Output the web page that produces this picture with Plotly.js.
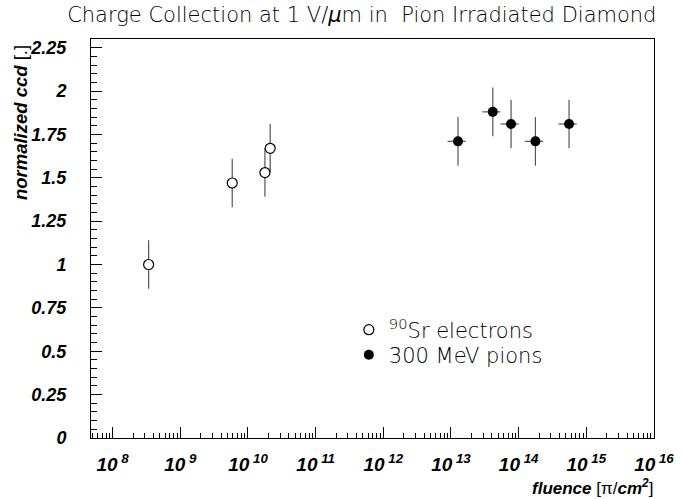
<!DOCTYPE html>
<html>
<head>
<meta charset="utf-8">
<script src="https://cdn.plot.ly/plotly-3.0.1.min.js"></script>
<style>html,body{margin:0;padding:0;background:#fff;}#chart{width:682px;height:499px;}</style>
</head>
<body>
<div id="chart"></div>
<script>
// --- data ---
const srFluence = [3.4e8, 5.85e9, 1.78e10, 2.13e10];
const srCcd     = [1.00, 1.47, 1.53, 1.67];
const srCcdErr  = [0.14, 0.14, 0.14, 0.14];

const piFluence = [1.27e13, 4.15e13, 7.73e13, 1.77e14, 5.56e14];
const piCcd     = [1.71, 1.88, 1.81, 1.71, 1.81];
const piCcdErr  = [0.14, 0.14, 0.14, 0.14, 0.14];
const piFluenceErrPct = 30;

const xTickVals = [1e8, 1e9, 1e10, 1e11, 1e12, 1e13, 1e14, 1e15, 1e16];
const xTickText = ['10<sup> 8</sup>', '10<sup> 9</sup>', '10<sup> 10</sup>', '10<sup> 11</sup>', '10<sup> 12</sup>',
                   '10<sup> 13</sup>', '10<sup> 14</sup>', '10<sup> 15</sup>', '10<sup> 16</sup>'];
const yTickVals = [0, 0.25, 0.5, 0.75, 1, 1.25, 1.5, 1.75, 2, 2.25];
const yTickText = ['0', '0.25', '0.5', '0.75', '1', '1.25', '1.5', '1.75', '2', '2.25'];

const titleText = 'Charge Collection at 1 V/<i>μ</i>m in  Pion Irradiated Diamond';
const srName = '<sup>90</sup>Sr electrons';
const piName = '300 MeV pions';

const thinFont = {family: 'DejaVu Sans', size: 21, color: '#000', weight: 200};
const boldItal = {family: 'Liberation Sans, Arial, sans-serif', size: 18, color: '#000', weight: 'bold', style: 'italic'};

const errStyle = {color: '#555', thickness: 1.2, width: 0};

const traces = [
  {
    x: srFluence, y: srCcd, name: srName, type: 'scatter', mode: 'markers', legend: 'legend',
    marker: {symbol: 'circle', size: 10, color: '#fff', line: {color: '#000', width: 1.2}},
    error_y: Object.assign({type: 'data', array: srCcdErr, visible: true}, errStyle)
  },
  {
    x: piFluence, y: piCcd, name: piName, type: 'scatter', mode: 'markers', legend: 'legend2',
    marker: {symbol: 'circle', size: 10, color: '#000', line: {color: '#000', width: 0}},
    error_y: Object.assign({type: 'data', array: piCcdErr, visible: true}, errStyle),
    error_x: Object.assign({type: 'percent', value: piFluenceErrPct, visible: true}, errStyle)
  }
];

const legendFont = Object.assign({}, thinFont, {size: 21});

const layout = {
  width: 682, height: 499,
  margin: {l: 91, r: 28, t: 39, b: 61, pad: 0},
  paper_bgcolor: '#fff', plot_bgcolor: '#fff',
  showlegend: true,
  title: {text: titleText, font: thinFont, x: 0.481, xref: 'paper', xanchor: 'center', y: 0.970, yanchor: 'middle'},
  legend: {x: 0.458, y: 0.322, xanchor: 'left', yanchor: 'top', bgcolor: 'rgba(0,0,0,0)',
           font: legendFont, itemwidth: 30},
  legend2: {x: 0.458, y: 0.259, xanchor: 'left', yanchor: 'top', bgcolor: 'rgba(0,0,0,0)',
           font: legendFont, itemwidth: 30},
  xaxis: {
    type: 'log', range: [7.68, 16.0005], autorange: false,
    showgrid: false, zeroline: false,
    showline: true, linecolor: '#000', linewidth: 1, mirror: true,
    ticks: 'inside', ticklen: 11, tickcolor: '#000', tickwidth: 1,
    tickmode: 'array', tickvals: xTickVals, ticktext: xTickText,
    tickfont: Object.assign({}, boldItal, {size: 19}), ticklabelstandoff: 9,
    minor: {ticks: 'inside', ticklen: 5, tickcolor: '#000', tickwidth: 1, dtick: 'D1', showgrid: false}
  },
  yaxis: {
    range: [0, 2.30], autorange: false,
    showgrid: false, zeroline: false,
    showline: true, linecolor: '#000', linewidth: 1, mirror: true,
    ticks: 'inside', ticklen: 11, tickcolor: '#000', tickwidth: 1,
    tickmode: 'array', tickvals: yTickVals, ticktext: yTickText,
    tickfont: boldItal, ticklabelstandoff: 20,
    minor: {ticks: 'inside', ticklen: 6, tickcolor: '#000', tickwidth: 1, dtick: 0.05, showgrid: false}
  },
  annotations: [
    {
      text: '<b><i>normalized ccd</i></b> [.]', textangle: -90,
      xref: 'paper', yref: 'paper', x: -0.125, y: 0.99, xanchor: 'center', yanchor: 'top',
      showarrow: false, font: Object.assign({}, boldItal, {size: 18.5, weight: 'normal', style: 'normal'})
    },
    {
      text: '<b><i>fluence</i></b> [π/<b><i>cm<sup>2</sup></i></b>]',
      xref: 'paper', yref: 'paper', x: 1.002, y: -0.124, xanchor: 'right', yanchor: 'middle',
      showarrow: false, font: Object.assign({}, boldItal, {size: 17, weight: 'normal', style: 'normal'})
    }
  ]
};

Plotly.newPlot('chart', traces, layout, {displayModeBar: false, staticPlot: true});
</script>
</body>
</html>
